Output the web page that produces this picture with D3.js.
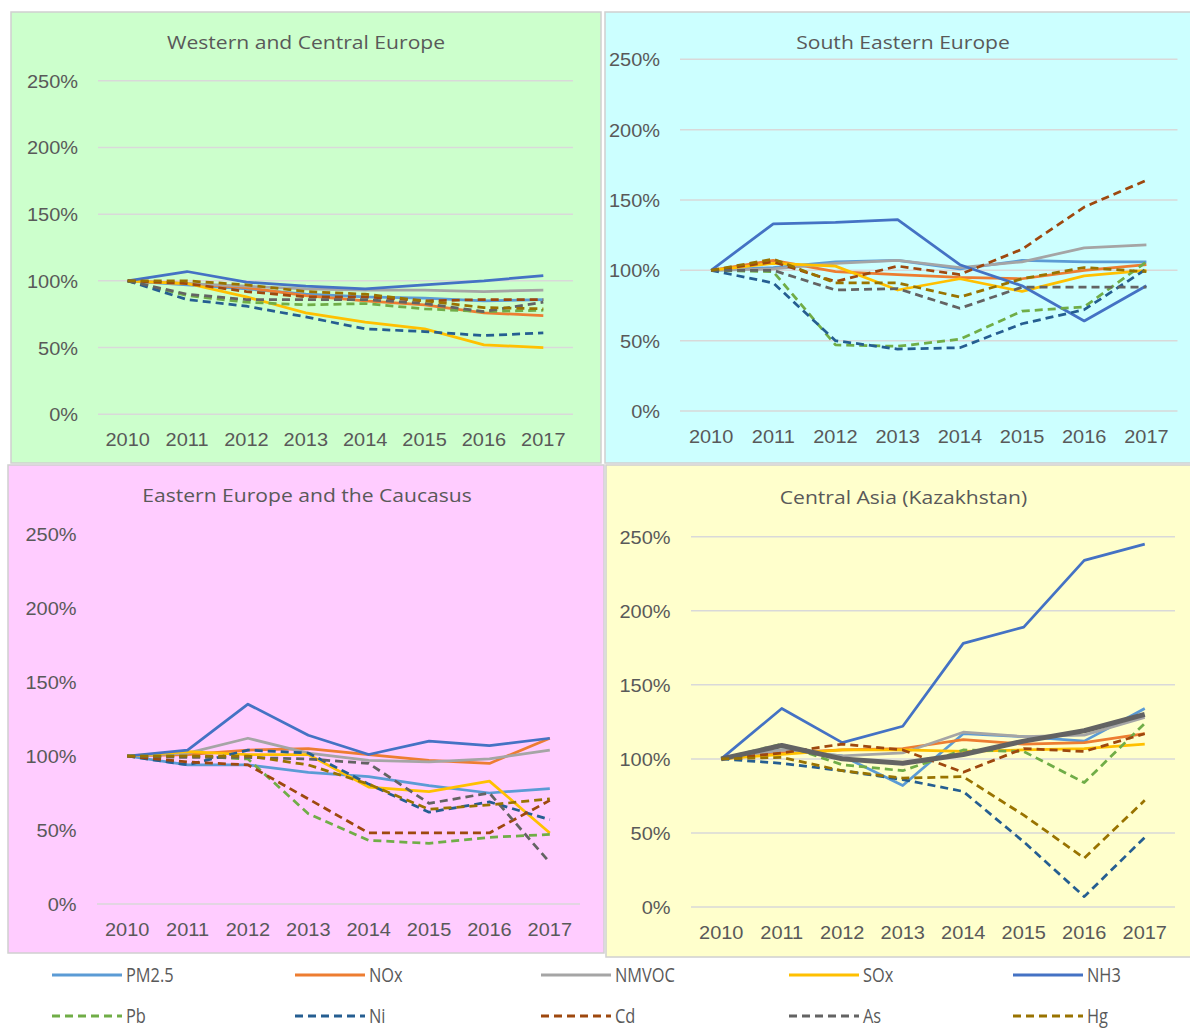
<!DOCTYPE html>
<html><head><meta charset="utf-8">
<script src="https://cdn.jsdelivr.net/npm/d3@7"></script>
<style>
body{margin:0;background:#fff;}
svg{display:block;font-family:"Open Sans","Noto Sans",sans-serif;}
</style>
</head><body>
<svg id="chart" width="1190" height="1030"></svg>
<script>
// ---------- DATA ----------
const years = ["2010","2011","2012","2013","2014","2015","2016","2017"];
const pollutants = ["PM2.5","NOx","NMVOC","SOx","NH3","Pb","Ni","Cd","As","Hg"];
const yTicks = [0,50,100,150,200,250];
const regionTitles = ["Western and Central Europe","South Eastern Europe","Eastern Europe and the Caucasus","Central Asia (Kazakhstan)"];

// emissions as % of 2010; rows follow the order of `pollutants`
const westernCentralEurope = [
  [100,97,94,90,88,87,85,86],
  [100,98,95,89,85,82,76,74],
  [100,98,96,94,93,93,92,93],
  [100,98,88,76,69,64,52,50],
  [100,107,99,96,94,97,100,104],
  [100,89,84,82,83,79,77,78],
  [100,86,81,73,64,62,59,61],
  [100,98,92,88,88,85,86,86],
  [100,90,86,86,86,83,77,84],
  [100,100,97,92,90,85,80,79]
];
const southEasternEurope = [
  [100,102,106,107,101,107,106,106],
  [100,107,99,97,95,94,100,104],
  [100,101,105,107,102,106,116,118],
  [100,105,103,86,94,85,96,100],
  [100,133,134,136,104,89,64,89],
  [100,99,47,46,51,71,74,106],
  [100,91,50,44,45,62,72,101],
  [100,106,92,103,97,115,145,164],
  [100,100,86,87,73,88,88,88],
  [100,108,91,91,81,94,102,99]
];
const easternEuropeCaucasus = [
  [100,94,94,89,86,80,75,78],
  [100,101,104,105,101,97,95,112],
  [100,102,112,102,97,96,98,104],
  [100,103,101,101,79,76,83,48],
  [100,104,135,114,101,110,107,112],
  [100,100,98,61,43,41,45,47],
  [100,94,104,102,81,62,69,57],
  [100,96,94,71,48,48,48,70],
  [100,99,99,98,95,68,75,28],
  [100,100,100,94,81,64,67,71]
];
const centralAsiaKazakhstan = [
  [100,106,102,82,117,115,112,134],
  [100,104,106,107,113,110,111,117],
  [100,106,102,104,118,115,116,128],
  [100,103,106,106,105,106,107,110],
  [100,134,111,122,178,189,234,245],
  [100,110,96,92,106,105,84,124],
  [100,97,92,86,78,44,7,47],
  [100,104,110,106,91,107,105,117],
  [100,109,100,97,103,112,119,130],
  [100,101,92,87,88,62,33,72]
];

// ---------- STYLE ----------
const colors = ["#5B9BD5","#ED7D31","#A5A5A5","#FFC000","#4472C4","#70AD47","#255E91","#9E480E","#636363","#997300"];
const dashed = [false,false,false,false,false,true,true,true,true,true];
const textColor = "#595959";
const gridColor = "#D9D9D9";
const SX = 1.11; // horizontal stretch of the chart text

const panels = [
  {data: westernCentralEurope, rect:[11,12,590,451], bg:"#CCFFCC", x:[98,573], y:[414.3,80.7], labelX:78, yearY:446, titleX:306, titleY:48.5, grid:true},
  {data: southEasternEurope, rect:[605,12,600,451], bg:"#CCFFFF", x:[680,1177.5], y:[411,59.3], labelX:660, yearY:443, titleX:903, titleY:49, grid:true},
  {data: easternEuropeCaucasus, rect:[8,465,596,488], bg:"#FFCCFF", x:[97,580], y:[904,534], labelX:76.5, yearY:936, titleX:307, titleY:502, grid:false},
  {data: centralAsiaKazakhstan, rect:[606,465,600,492], bg:"#FFFFCC", x:[691,1175], y:[907,536.7], labelX:670.5, yearY:939, titleX:903.5, titleY:504, grid:true, thickAs:true}
];

const svg = d3.select("#chart");

panels.forEach((p, pi) => {
  const g = svg.append("g");
  g.append("rect")
    .attr("x", p.rect[0]).attr("y", p.rect[1])
    .attr("width", p.rect[2]).attr("height", p.rect[3])
    .attr("fill", p.bg).attr("stroke", "#D0D0D0").attr("stroke-width", 1.5);

  const x = d3.scaleBand().domain(years).range(p.x);
  const y = d3.scaleLinear().domain([0,250]).range(p.y);
  const cx = d => x(d) + x.bandwidth()/2;

  // gridlines
  const gridVals = p.grid ? yTicks : [0];
  g.selectAll(".grid").data(gridVals).enter().append("line")
    .attr("x1", p.x[0]).attr("x2", p.x[1])
    .attr("y1", d => y(d)).attr("y2", d => y(d))
    .attr("stroke", gridColor).attr("stroke-width", 1.5);

  // y axis
  const ya = g.append("g").attr("transform", `translate(${p.labelX},0)`)
    .call(d3.axisLeft(y).tickValues(yTicks).tickFormat(d => d + "%").tickSize(0).tickPadding(0));
  ya.select(".domain").remove();
  ya.selectAll("text")
    .attr("x", 0).attr("dy", "0.36em")
    .attr("fill", textColor).style("font-size", "18px")
    .attr("font-family", null)
    .attr("transform", `scale(${SX},1)`);

  // x axis
  const xa = g.append("g").attr("transform", `translate(0,${y(0)})`)
    .call(d3.axisBottom(x).tickSize(0));
  xa.select(".domain").remove();
  xa.selectAll("text")
    .attr("y", p.yearY - y(0)).attr("dy", 0)
    .attr("fill", textColor).style("font-size", "18px")
    .attr("font-family", null)
    .attr("transform", `scale(${SX},1)`);

  // title
  g.append("text")
    .attr("transform", `translate(${p.titleX},${p.titleY}) scale(${SX},1)`)
    .attr("text-anchor", "middle").attr("fill", textColor)
    .style("font-size", "19px").text(regionTitles[pi]);

  // lines
  const line = d3.line().x((d,i) => cx(years[i])).y(d => y(d));
  pollutants.forEach((name, si) => {
    const thick = p.thickAs && name === "As";
    g.append("path")
      .datum(p.data[si])
      .attr("d", line)
      .attr("fill", "none")
      .attr("stroke", colors[si])
      .attr("stroke-width", thick ? 5 : 2.75)
      .attr("stroke-linejoin", "round")
      .attr("stroke-dasharray", (dashed[si] && !thick) ? "8,5" : null);
  });
});

// ---------- LEGEND ----------
const legendCols = [52, 295, 541, 789, 1013];
const legendRows = [975, 1016];
const leg = svg.append("g");
pollutants.forEach((name, i) => {
  const col = i % 5, row = Math.floor(i / 5);
  const lx = legendCols[col], ly = legendRows[row];
  leg.append("line")
    .attr("x1", lx).attr("x2", lx + 70)
    .attr("y1", ly).attr("y2", ly)
    .attr("stroke", colors[i]).attr("stroke-width", 3)
    .attr("stroke-dasharray", dashed[i] ? "8,5" : null);
  leg.append("text")
    .attr("transform", `translate(${lx + 74},${ly}) scale(0.82,1)`)
    .attr("dy", "0.36em")
    .attr("fill", textColor)
    .style("font-size", "20px")
    .text(name);
});
</script>
</body></html>
